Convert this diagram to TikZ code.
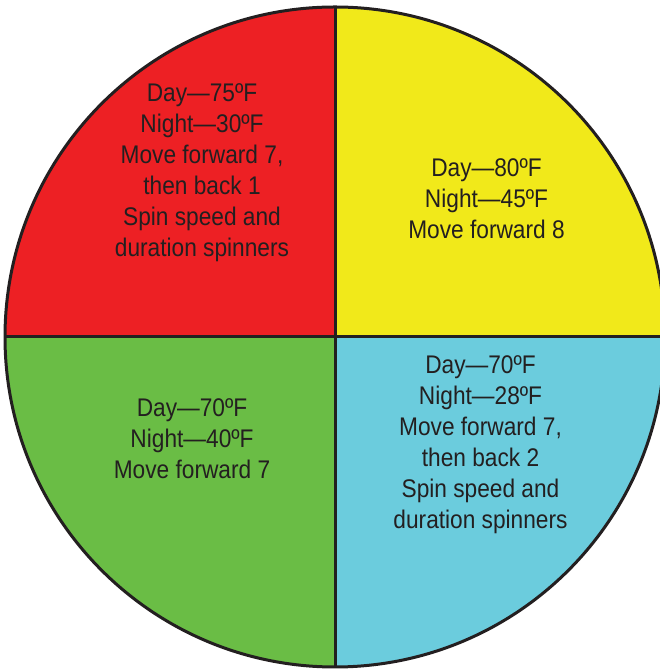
\documentclass[tikz,border=0pt]{standalone}
\usepackage{fontspec}
\setmainfont{Liberation Sans}[FakeStretch=0.89]
\usepackage{tikz}
\usetikzlibrary{positioning}
\definecolor{qred}{HTML}{ED2024}
\definecolor{qyel}{HTML}{F1E91A}
\definecolor{qgrn}{HTML}{6ABD45}
\definecolor{qcyan}{HTML}{6BCCDD}
\definecolor{ink}{HTML}{231F20}

\begin{document}
\begin{tikzpicture}
      [x=1pt,y=1pt,every node/.style={align=center,text=ink,font=\fontsize{25.5}{31}\selectfont}]
      \useasboundingbox (0,0) rectangle (660,671);
      \clip (0,0) rectangle (660,671);
      \coordinate (c) at (335,334);
      \coordinate (top) at (335,664);
      \coordinate (bot) at (335,4);
      \coordinate (lft) at (5,334);
      \coordinate (rgt) at (665,334);

      % four quarters
      \foreach \col/\ang in {qyel/0,qred/90,qgrn/180,qcyan/270}
        \fill[\col] (c) -- ++(\ang:330pt) arc (\ang:\ang+90:330pt) -- cycle;

      \draw[line width=3pt,ink] (c) circle (330pt);
      \draw[line width=3pt,ink] (top) -- (bot);
      \draw[line width=3pt,ink] (lft) -- (rgt);

      \node (nw) at (202,498.6) {Day—75ºF\\Night—30ºF\\Move forward 7,\\then back 1\\Spin speed and\\duration spinners};
      \node (ne) at (486.5,472.3) {Day—80ºF\\Night—45ºF\\Move forward 8};
      \node (sw) at (192,232.5) {Day—70ºF\\Night—40ºF\\Move forward 7};
      \node (se) at (480.5,226) {Day—70ºF\\Night—28ºF\\Move forward 7,\\then back 2\\Spin speed and\\duration spinners};

    \end{tikzpicture}
\end{document}
